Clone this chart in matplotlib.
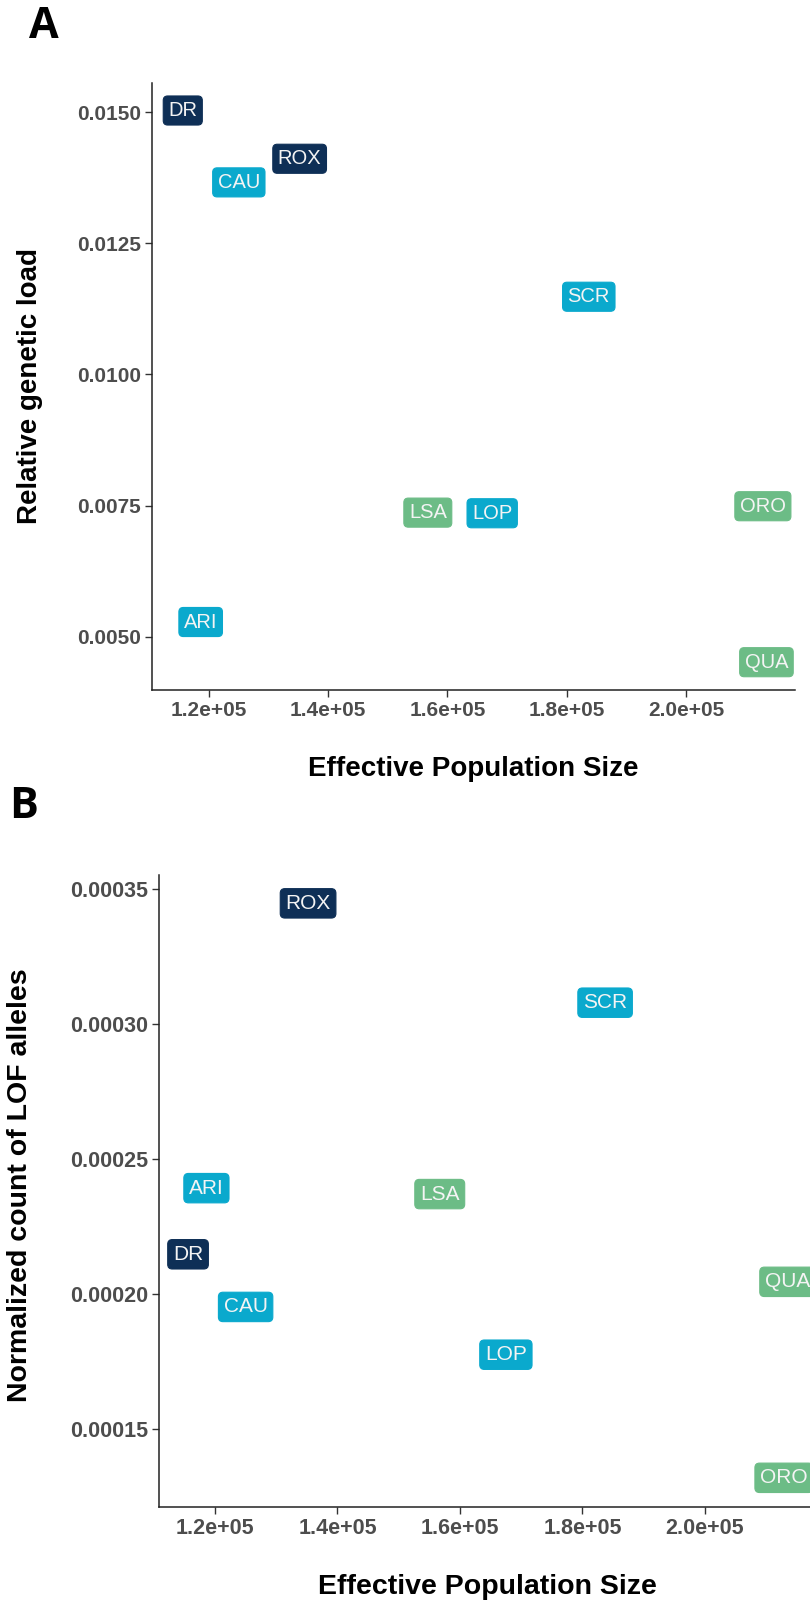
import matplotlib
matplotlib.use("Agg")
import matplotlib.pyplot as plt
from matplotlib.ticker import FuncFormatter, FixedLocator

# population data
pops = ["DR", "CAU", "ROX", "ARI", "LSA", "LOP", "SCR", "ORO", "QUA"]
groups = ["navy", "cyan", "navy", "cyan", "green", "cyan", "cyan", "green", "green"]
ne = [115600, 125000, 135200, 118600, 156700, 167500, 183700, 212900, 213500]
gen_load = [0.01503, 0.01366, 0.01411, 0.00528, 0.007365, 0.007353, 0.01148, 0.007487, 0.004514]
lof_count = [0.0002148, 0.0001953, 0.0003448, 0.0002393, 0.0002371, 0.0001776, 0.0003080, 0.0001320, 0.0002046]

x_ticks = [1.2e5, 1.4e5, 1.6e5, 1.8e5, 2.0e5]
yA_ticks = [0.0050, 0.0075, 0.0100, 0.0125, 0.0150]
yB_ticks = [0.00015, 0.00020, 0.00025, 0.00030, 0.00035]

colors = {"navy": "#0e2f56", "cyan": "#0aa9cd", "green": "#6cbc86"}

W, H = 810, 1602
fig = plt.figure(figsize=(W / 100, H / 100), dpi=100)


def px_rect(l, t, r, b):
    return [l / W, 1 - b / H, (r - l) / W, (b - t) / H]


def style_axes(ax, tick_size):
    for s in ["top", "right"]:
        ax.spines[s].set_visible(False)
    for s in ["left", "bottom"]:
        ax.spines[s].set_color("#222222")
        ax.spines[s].set_linewidth(1.1)
    ax.tick_params(direction="out", length=5, width=1.0, color="#333333",
                   labelcolor="#4d4d4d", labelsize=tick_size, pad=3)
    for lab in ax.get_xticklabels() + ax.get_yticklabels():
        lab.set_fontweight("bold")
        lab.set_family("Liberation Sans")


def draw_labels(ax, yvals, fsize):
    for p, g, x, y in zip(pops, groups, ne, yvals):
        ax.text(x, y, p, ha="center", va="center", fontsize=fsize,
                family="Liberation Sans", color="#f4f4f4", clip_on=False,
                bbox=dict(boxstyle="round,pad=0.25,rounding_size=0.22",
                          fc=colors[g], ec=colors[g], lw=0.8))


# panel A
axA = fig.add_axes(px_rect(152.3, 82.7, 795, 690))
axA.set_xlim(110487, 218289)
axA.set_ylim(0.003984, 0.01556)
axA.xaxis.set_major_locator(FixedLocator(x_ticks))
axA.yaxis.set_major_locator(FixedLocator(yA_ticks))
axA.xaxis.set_major_formatter(FuncFormatter(lambda v, p: f"{v:.1e}"))
axA.yaxis.set_major_formatter(FuncFormatter(lambda v, p: f"{v:.4f}"))
style_axes(axA, 15)
draw_labels(axA, gen_load, 14.5)

# panel B
axB = fig.add_axes(px_rect(159, 875, 817, 1506.7))
axB.set_xlim(110857, 218300)
axB.set_ylim(0.0001213, 0.0003553)
axB.xaxis.set_major_locator(FixedLocator(x_ticks))
axB.yaxis.set_major_locator(FixedLocator(yB_ticks))
axB.xaxis.set_major_formatter(FuncFormatter(lambda v, p: f"{v:.1e}"))
axB.yaxis.set_major_formatter(FuncFormatter(lambda v, p: f"{v:.5f}"))
style_axes(axB, 15.5)
draw_labels(axB, lof_count, 15)

# axis titles
fig.text(30 / W, 1 - 385.5 / H, "Relative genetic load", rotation=90, ha="center", va="center",
         fontsize=20, fontweight="bold", family="Liberation Sans")
fig.text(473 / W, 1 - 769 / H, "Effective Population Size", ha="center", va="center",
         fontsize=20, fontweight="bold", family="Liberation Sans")
fig.text(20.5 / W, 1 - 1185 / H, "Normalized count of LOF alleles", rotation=90, ha="center", va="center",
         fontsize=20.5, fontweight="bold", family="Liberation Sans")
fig.text(487 / W, 1 - 1587 / H, "Effective Population Size", ha="center", va="center",
         fontsize=20.5, fontweight="bold", family="Liberation Sans")

# panel letters
fig.text(44 / W, 1 - 27 / H, "A", ha="center", va="center", fontsize=31,
         fontweight="bold", family="Open Sans")
fig.text(24 / W, 1 - 807 / H, "B", ha="center", va="center", fontsize=31,
         fontweight="bold", family="Open Sans")

fig.savefig("out.png", dpi=100)
